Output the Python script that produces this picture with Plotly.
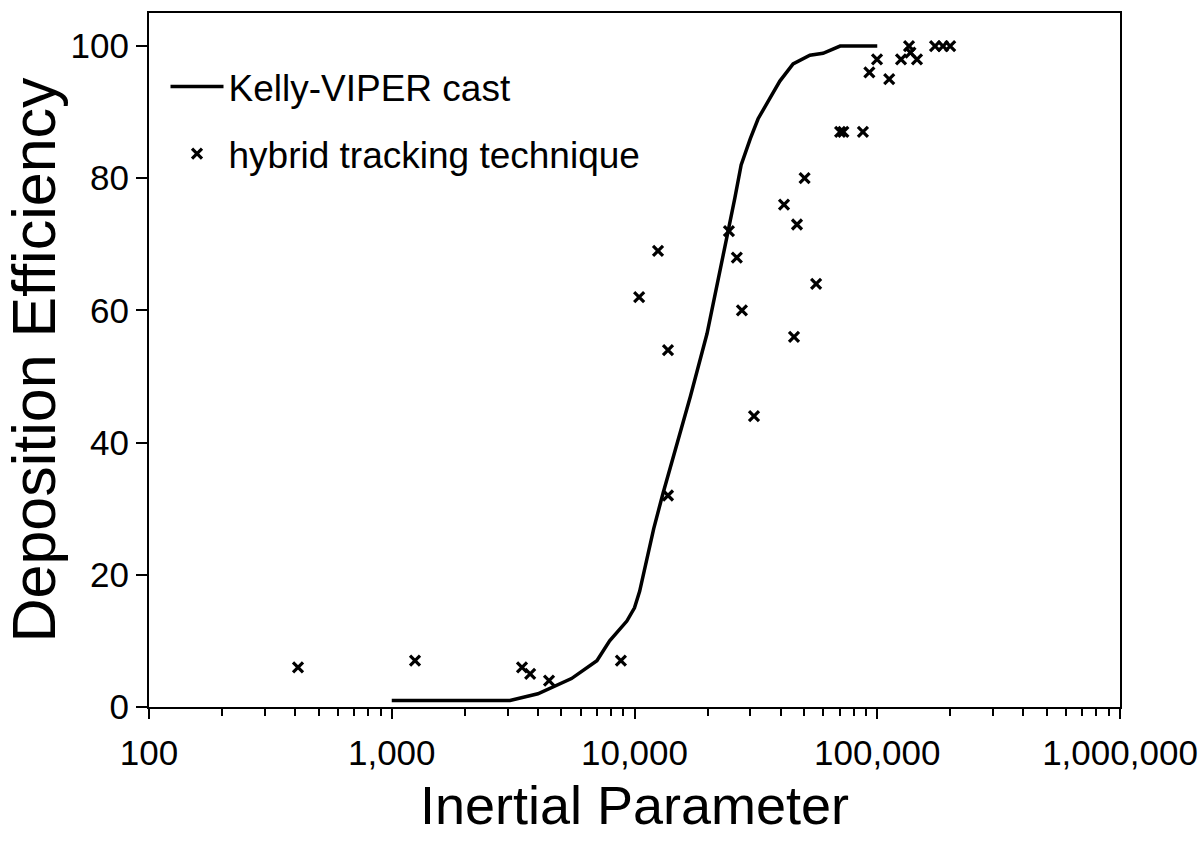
import plotly.graph_objects as go

# Kelly-VIPER cast curve
curve_x = [1000, 3070, 4000, 4490, 5500, 7000, 7900, 9300, 10000, 10500, 11000, 12000,
           13100, 15000, 17000, 19900, 22000, 24300, 25900, 27500, 30000, 32300, 36000,
           39700, 45000, 52800, 59800, 70300, 100000]
curve_y = [1, 1, 2, 2.8, 4.3, 7, 10, 13, 15, 17.5, 21, 27,
           32.3, 40, 47, 56.5, 64, 72, 77, 82, 86, 89, 92,
           94.7, 97.3, 98.6, 98.9, 100, 100]

# hybrid tracking technique points
pts_x = [411, 1247, 3440, 3717, 4446, 8790, 10450, 12500, 13740, 13740, 24490, 26400,
         27700, 31060, 41300, 45400, 46700, 50200, 56000, 70300, 72500, 87300, 92800,
         99800, 112000, 125300, 135200, 137000, 145800, 173000, 186600, 199700]
pts_y = [6, 7, 6, 5, 4, 7, 62, 69, 54, 32, 72, 68,
         60, 44, 76, 56, 73, 80, 64, 87, 87, 87, 96,
         98, 95, 98, 100, 99, 98, 100, 100, 100]

FONT = "Liberation Sans, Arial, sans-serif"

fig = go.Figure()
fig.add_trace(go.Scatter(x=curve_x, y=curve_y, mode="lines", name="Kelly-VIPER cast",
                         line=dict(color="black", width=3.5), legendgroup="a"))
fig.add_trace(go.Scatter(x=pts_x, y=pts_y, mode="markers", name="hybrid tracking technique",
                         marker=dict(symbol="x-thin-open", size=10, color="black",
                                     line=dict(color="black", width=3.2)),
                         legendgroup="b"))

fig.update_layout(
    width=1202, height=850,
    margin=dict(l=149, r=82, t=13, b=143),
    paper_bgcolor="white", plot_bgcolor="white",
    font=dict(family=FONT, color="black", size=35),
    showlegend=True,
    legend=dict(x=0.017, y=0.938, xanchor="left", yanchor="top",
                bgcolor="rgba(0,0,0,0)", font=dict(size=37),
                tracegroupgap=16, traceorder="grouped", itemwidth=53),
    xaxis=dict(type="log", range=[2, 6], dtick=1, tickformat=",",
               showgrid=False, zeroline=False, automargin=False,
               showline=True, linecolor="black", linewidth=2, mirror=True,
               ticks="outside", ticklen=10, tickwidth=1.5, tickcolor="black",
               minor=dict(ticks="outside", ticklen=7, tickwidth=1.5, tickcolor="black",
                          dtick="D1", showgrid=False),
               tickfont=dict(size=35), ticklabelstandoff=4,
               title=dict(text="Inertial Parameter", font=dict(size=54), standoff=15)),
    yaxis=dict(range=[0, 105], tick0=0, dtick=20,
               showgrid=False, zeroline=False, automargin=False,
               showline=True, linecolor="black", linewidth=2, mirror=True,
               ticks="outside", ticklen=11, tickwidth=1.5, tickcolor="black",
               tickfont=dict(size=35), ticklabelstandoff=0,
               title=dict(text="Deposition Efficiency", font=dict(size=61), standoff=14)),
)

fig.write_html("out.html")
